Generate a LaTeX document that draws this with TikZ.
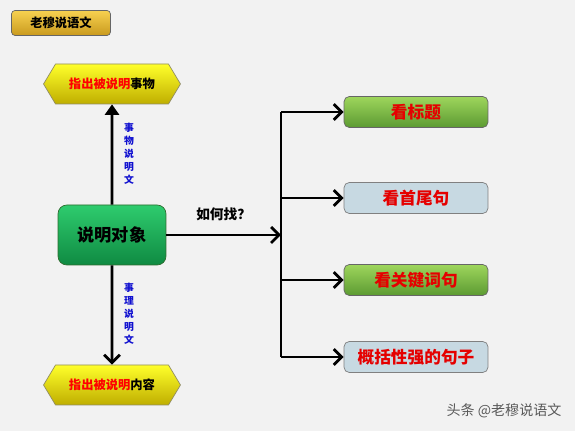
\documentclass[tikz,border=0pt]{standalone}
\usepackage{fontspec}
\newfontfamily\cjk{Noto Sans CJK SC}
\usetikzlibrary{arrows.meta,shapes.symbols}

\definecolor{paper}{HTML}{F2F2F2}
\definecolor{goldtop}{HTML}{F7D150}
\definecolor{goldbot}{HTML}{C99A1E}
\definecolor{yellowtop}{HTML}{FFFF2A}
\definecolor{yellowbot}{HTML}{BFAE00}
\definecolor{maintop}{HTML}{2ECC6E}
\definecolor{mainbot}{HTML}{0F8A42}
\definecolor{leaftop}{HTML}{9ED65C}
\definecolor{leafbot}{HTML}{5C9A32}
\definecolor{steel}{HTML}{C7D9E2}
\definecolor{labelblue}{HTML}{1010D0}

\begin{document}
\begin{tikzpicture}[x=0.02cm, y=-0.02cm,
    arr/.style={line width=1.6pt, -{Straight Barb[length=4.5pt, width=9pt, line width=1.6pt]}},
    uparr/.style={line width=1.6pt, -{Triangle[length=6pt, width=8pt]}},
    hexbox/.style={signal, signal to=east and west, signal pointer angle=118,
        top color=yellowtop, bottom color=yellowbot, draw=gray!70!olive,
        minimum width=2.74cm, minimum height=0.8cm, inner sep=0pt,
        font=\cjk\bfseries\fontsize{7pt}{8pt}\selectfont},
    greenbox/.style={rectangle, rounded corners=3pt, top color=leaftop, bottom color=leafbot,
        draw=gray!80!black, minimum width=2.88cm, minimum height=0.62cm,
        text=red!90!black, font=\cjk\bfseries\fontsize{9.5pt}{11pt}\selectfont},
    greybox/.style={greenbox, fill=steel, top color=steel, bottom color=steel, draw=gray},
    sidetext/.style={align=center, text=labelblue, inner sep=0pt,
        font=\cjk\bfseries\fontsize{5.6pt}{7.4pt}\selectfont}]

    % Background
    \fill[paper] (0,0) rectangle (575,431);
    \useasboundingbox (0,0) rectangle (575,431);

    % Title button
    \node[rectangle, rounded corners=2pt, top color=goldtop, bottom color=goldbot,
        draw=gray!80!black, minimum width=1.98cm, minimum height=0.5cm,
        font=\cjk\bfseries\fontsize{7pt}{8pt}\selectfont] (title) at (61,23) {老穆说语文};

    % Centre box and the two hexagons
    \node[rectangle, rounded corners=5pt, top color=maintop, bottom color=mainbot,
        draw=gray!60!green!60!black, minimum width=2.16cm, minimum height=1.2cm,
        font=\cjk\bfseries\fontsize{9.8pt}{11pt}\selectfont] (main) at (112,235) {说明对象};
    \node[hexbox] (thing) at (112,84) {\textcolor{red}{指出被说明}事物};
    \node[hexbox] (reason) at (112,385) {\textcolor{red}{指出被说明}内容};

    \draw[uparr] (main) -- (thing);
    \draw[arr] (main) -- (reason);
    \node[sidetext] (thinglbl) at (129,154) {事\\物\\说\\明\\文};
    \node[sidetext] (reasonlbl) at (129,314) {事\\理\\说\\明\\文};

    % How to find it
    \coordinate (hub) at (281,235);
    \draw[arr] (main) -- (hub) node[midway, above=4pt,
        font=\cjk\bfseries\fontsize{7.8pt}{9pt}\selectfont] (howlbl) {如何找？};

    % Branches to the four ways
    \foreach \i/\y/\s/\t in {1/112/greenbox/看标题, 2/198/greybox/看首尾句,
                             3/280/greenbox/看关键词句, 4/357/greybox/概括性强的句子} {
        \coordinate (b\i) at (281,\y);
        \node[\s] (way\i) at (416,\y) {\t};
        \draw[arr] (b\i) -- (way\i);
    }
    \draw[line width=1.6pt] (b1) -- (b4);

    % Watermark
    \node[text=gray!70!black, font=\cjk\fontsize{8pt}{9pt}\selectfont] (mark) at (504,411) {头条 @老穆说语文};
\end{tikzpicture}
\end{document}
